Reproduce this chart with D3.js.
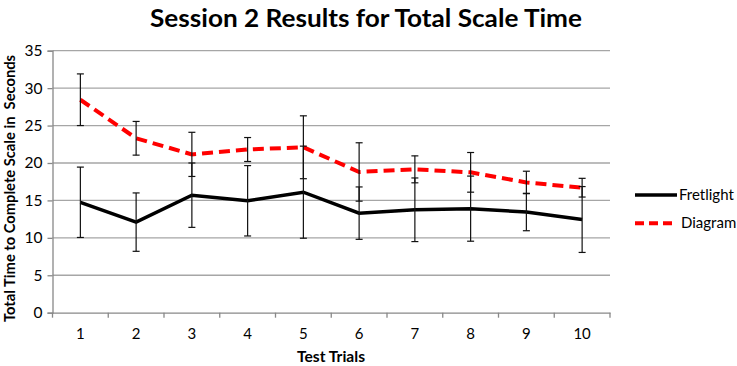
<!DOCTYPE html>
<meta charset="utf-8">
<title>Session 2 Results for Total Scale Time</title>
<style>
	body { margin: 0; background: #fff; }
	svg { display: block; font-family: Lato, "Open Sans", sans-serif; }
</style>
<body>
<div id="chart"></div>
<script src="https://cdn.jsdelivr.net/npm/d3@7"></script>
<script>
// donnees
var trials = ["1", "2", "3", "4", "5", "6", "7", "8", "9", "10"];
var fretlight = [14.75, 12.1, 15.7, 14.95, 16.1, 13.3, 13.75, 13.9, 13.45, 12.45];
var fretlightErr = [4.7, 3.9, 4.3, 4.7, 6.15, 3.5, 4.25, 4.35, 2.5, 4.4];
var diagram = [28.45, 23.3, 21.15, 21.8, 22.1, 18.8, 19.15, 18.75, 17.4, 16.7];
var diagramErr = [3.45, 2.25, 2.95, 1.6, 4.2, 3.9, 1.8, 2.65, 1.5, 1.25];
var yTicks = [0, 5, 10, 15, 20, 25, 30, 35];

var width = 737, height = 366;
var margin = { top: 50.7, left: 52.5, right: 127, bottom: 53.3 };

var svg = d3.select("#chart").append("svg")
	.attr("width", width)
	.attr("height", height);

var x = d3.scaleBand().domain(trials)
	.range([margin.left, width - margin.right]);
var y = d3.scaleLinear().domain([0, 35])
	.range([height - margin.bottom, margin.top]);

// titre
svg.append("text")
	.attr("x", 366).attr("y", 27)
	.attr("text-anchor", "middle")
	.attr("font-size", 25).attr("font-weight", "bold")
	.attr("textLength", 432).attr("lengthAdjust", "spacingAndGlyphs")
	.text("Session 2 Results for Total Scale Time");

// grille
svg.append("g").selectAll("line")
	.data(yTicks.filter(function (d) { return d > 0; }))
	.enter().append("line")
	.attr("x1", margin.left).attr("x2", width - margin.right)
	.attr("y1", function (d) { return y(d); })
	.attr("y2", function (d) { return y(d); })
	.attr("stroke", "#a6a6a6").attr("stroke-width", 1.3);

// axe y
var yAxis = svg.append("g")
	.attr("transform", "translate(" + margin.left + ",0)")
	.call(d3.axisLeft(y).tickValues(yTicks).tickSize(5).tickPadding(5));
yAxis.select(".domain").attr("stroke", "#888").attr("stroke-width", 1.3);
yAxis.selectAll(".tick line").attr("stroke", "#888").attr("stroke-width", 1.3);
yAxis.selectAll("text").attr("font-size", 15.5).attr("fill", "#000")
	.attr("font-family", "Lato, sans-serif");

// axe x
var xAxis = svg.append("g")
	.attr("transform", "translate(0," + y(0) + ")")
	.call(d3.axisBottom(x).tickSize(0).tickPadding(16));
xAxis.select(".domain").attr("stroke", "#888").attr("stroke-width", 1.3);
xAxis.selectAll("text").attr("font-size", 15).attr("fill", "#000")
	.attr("font-family", "Lato, sans-serif");
// traits entre les categories
svg.append("g").selectAll("line")
	.data(trials.concat(["end"]))
	.enter().append("line")
	.attr("x1", function (d, i) { return margin.left + i * x.step(); })
	.attr("x2", function (d, i) { return margin.left + i * x.step(); })
	.attr("y1", y(0)).attr("y2", y(0) + 5)
	.attr("stroke", "#888").attr("stroke-width", 1.3);

// titres des axes
svg.append("text")
	.attr("x", 331).attr("y", 362)
	.attr("text-anchor", "middle")
	.attr("font-size", 15).attr("font-weight", "bold")
	.attr("textLength", 68).attr("lengthAdjust", "spacingAndGlyphs")
	.text("Test Trials");

svg.append("text")
	.attr("transform", "translate(15," + 188.5 + ") rotate(-90)")
	.attr("text-anchor", "middle")
	.attr("font-size", 15).attr("font-weight", "bold")
	.attr("xml:space", "preserve")
	.attr("textLength", 267).attr("lengthAdjust", "spacingAndGlyphs")
	.text("Total Time to Complete Scale in  Seconds");

var cx = function (d, i) { return x(trials[i]) + x.bandwidth() / 2; };

function drawErr(vals, errs) {
	var g = svg.append("g").attr("stroke", "#111").attr("stroke-width", 1.2);
	g.selectAll(".v").data(vals).enter().append("line")
		.attr("x1", cx).attr("x2", cx)
		.attr("y1", function (d, i) { return y(d + errs[i]); })
		.attr("y2", function (d, i) { return y(d - errs[i]); });
	[1, -1].forEach(function (s) {
		g.selectAll(".c" + s).data(vals).enter().append("line")
			.attr("x1", function (d, i) { return cx(d, i) - 3.5; })
			.attr("x2", function (d, i) { return cx(d, i) + 3.5; })
			.attr("y1", function (d, i) { return y(d + s * errs[i]); })
			.attr("y2", function (d, i) { return y(d + s * errs[i]); });
	});
}

var line = d3.line().x(cx).y(function (d) { return y(d); });

svg.append("path").datum(diagram)
	.attr("d", line).attr("fill", "none")
	.attr("stroke", "#ff0000").attr("stroke-width", 4)
	.attr("stroke-dasharray", "11,6");
svg.append("path").datum(fretlight)
	.attr("d", line).attr("fill", "none")
	.attr("stroke", "#000").attr("stroke-width", 3.5);

drawErr(diagram, diagramErr);
drawErr(fretlight, fretlightErr);

// legende
var legend = [
	{ name: "Fretlight", color: "#000", dash: null, w: 3.5 },
	{ name: "Diagram", color: "#ff0000", dash: "9,5", w: 4 }
];
var lg = svg.append("g").selectAll("g").data(legend).enter().append("g")
	.attr("transform", function (d, i) { return "translate(635," + (195 + i * 28.3) + ")"; });
lg.append("line")
	.attr("x1", 0).attr("x2", 42)
	.attr("stroke", function (d) { return d.color; })
	.attr("stroke-width", function (d) { return d.w; })
	.attr("stroke-dasharray", function (d) { return d.dash; });
lg.append("text")
	.attr("x", function (d, i) { return i ? 46 : 44; }).attr("y", 5)
	.attr("font-size", 15)
	.text(function (d) { return d.name; });
</script>
</body>
